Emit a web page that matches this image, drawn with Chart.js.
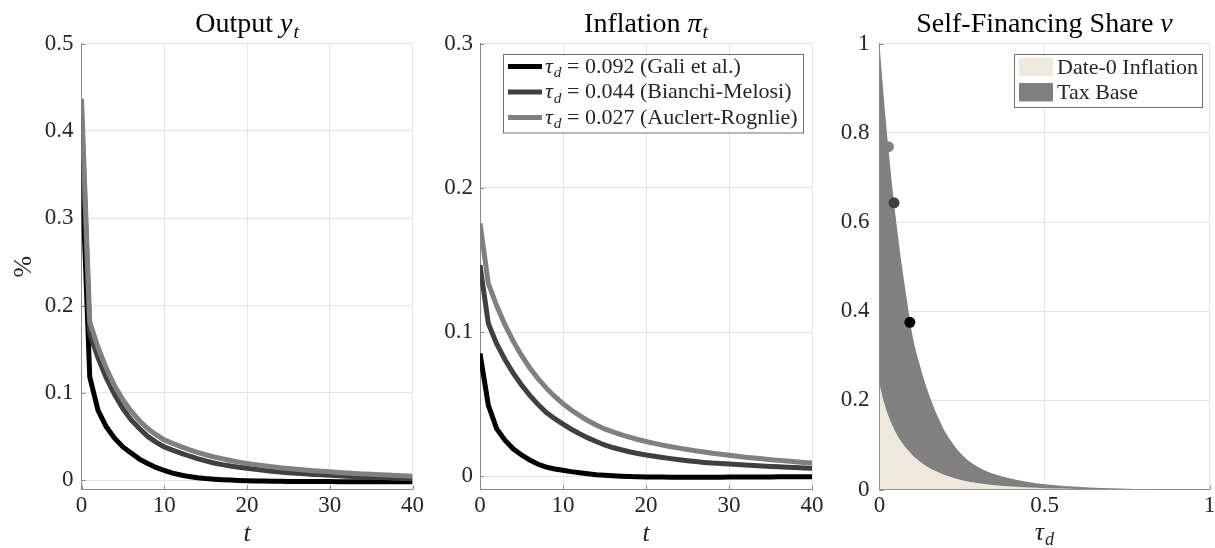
<!DOCTYPE html>
<html>
<head>
<meta charset="utf-8">
<script src="https://cdn.jsdelivr.net/npm/chart.js@4.4.1/dist/chart.umd.min.js"></script>
<style>
html,body{margin:0;padding:0;background:#fff;font-family:'Liberation Serif',serif;}
#wrap{position:relative;width:1215px;height:548px;overflow:hidden;background:#fff;}
canvas{position:absolute;top:0;}
#fontprobe{position:absolute;left:-9999px;top:0;font-family:'Liberation Serif';}
</style>
</head>
<body>
<span id="fontprobe">Output <i>y</i> 0.5</span>
<div id="wrap">
<canvas id="c1" style="left:0px" width="430" height="548"></canvas>
<canvas id="c2" style="left:430px" width="400" height="548"></canvas>
<canvas id="c3" style="left:830px" width="385" height="548"></canvas>
</div>
<script>
// ---------------- DATA ----------------
const periods = [0,1,2,3,4,5,6,7,8,9,10,11,12,13,14,15,16,17,18,19,20,21,22,23,24,25,26,27,28,29,30,31,32,33,34,35,36,37,38,39,40];

// Output y_t (%)
const outputGali = [0.368,0.118,0.080,0.061,0.048,0.038,0.031,0.024,0.019,0.0145,0.011,0.008,0.0058,0.004,0.0027,0.0017,0.001,0.0004,0,-0.0004,-0.0008,-0.001,-0.0012,-0.0013,-0.0014,-0.0015,-0.0016,-0.0016,-0.0017,-0.0017,-0.0017,-0.0018,-0.0018,-0.0018,-0.0018,-0.0018,-0.0019,-0.0019,-0.0019,-0.0019,-0.0019];
const outputBianchiMelosi = [0.42,0.168,0.140,0.117,0.098,0.082,0.069,0.059,0.050,0.0435,0.038,0.0343,0.031,0.0276,0.0246,0.022,0.0196,0.0177,0.0161,0.0147,0.0135,0.0123,0.0112,0.0102,0.0093,0.0085,0.0078,0.0071,0.0065,0.006,0.0055,0.005,0.0045,0.0041,0.0037,0.0033,0.003,0.0026,0.0022,0.0018,0.0015];
const outputAuclertRognlie = [0.437,0.181,0.152,0.128,0.108,0.092,0.079,0.068,0.059,0.052,0.046,0.042,0.0383,0.0349,0.0318,0.029,0.0266,0.0244,0.0224,0.0206,0.019,0.0177,0.0164,0.0153,0.0142,0.0132,0.0123,0.0115,0.0107,0.0101,0.0095,0.0088,0.0082,0.0076,0.0071,0.0066,0.0061,0.0057,0.0053,0.0049,0.0045];

// Inflation pi_t (%)
const inflationGali = [0.0852,0.0494,0.033,0.025,0.019,0.0148,0.0112,0.0083,0.0063,0.005,0.0042,0.0032,0.0024,0.0017,0.0011,0.0007,0.0003,0,-0.0002,-0.0004,-0.0005,-0.0006,-0.0006,-0.0007,-0.0007,-0.0007,-0.0007,-0.0007,-0.0007,-0.0007,-0.0006,-0.0006,-0.0006,-0.0005,-0.0005,-0.0005,-0.0004,-0.0004,-0.0004,-0.0003,-0.0003];
const inflationBianchiMelosi = [0.1465,0.106,0.092,0.081,0.0715,0.0633,0.0561,0.0497,0.0442,0.0399,0.0362,0.0326,0.0295,0.0266,0.0241,0.0217,0.0199,0.0184,0.017,0.0158,0.0147,0.0138,0.013,0.0122,0.0115,0.0108,0.0102,0.0096,0.0091,0.0088,0.0085,0.0081,0.0078,0.0074,0.0071,0.0068,0.0065,0.0062,0.006,0.0057,0.0055];
const inflationAuclertRognlie = [0.1754,0.1338,0.1184,0.1051,0.0937,0.0838,0.0751,0.0676,0.0611,0.0553,0.0503,0.0459,0.042,0.0385,0.0355,0.0328,0.0307,0.0288,0.0271,0.0255,0.0241,0.0228,0.0216,0.0205,0.0195,0.0185,0.0176,0.0168,0.016,0.0152,0.0145,0.0139,0.0132,0.0126,0.0121,0.0115,0.011,0.0105,0.0101,0.0096,0.0092];

// Self-financing share nu over tau_d
const tauGrid = [0,0.01,0.02,0.03,0.04,0.05,0.06,0.07,0.08,0.09,0.10,0.12,0.14,0.16,0.18,0.20,0.25,0.30,0.35,0.40,0.45,0.50,0.55,0.60,0.65,0.70,0.75,0.80,0.85,0.90,0.95,1.0];
const date0Inflation = [0.236,0.205,0.18,0.159,0.142,0.127,0.114,0.103,0.093,0.085,0.077,0.064,0.053,0.045,0.038,0.032,0.021,0.014,0.0095,0.0065,0.0045,0.003,0.002,0.0014,0.001,0.0007,0.0005,0.0003,0.0002,0.0001,0.0001,0];
const taxBaseTotal = [1.0,0.905,0.82,0.742,0.67,0.605,0.545,0.49,0.44,0.39,0.345,0.285,0.235,0.193,0.158,0.128,0.078,0.05,0.034,0.024,0.017,0.012,0.0085,0.006,0.004,0.0027,0.0018,0.0012,0.0008,0.0005,0.0003,0.0002];
const tauCalibrations = [0.092,0.044,0.027];
const nuCalibrations = [0.375,0.643,0.769];

// Labels
const tauLabels = ['0.092','0.044','0.027'];
const sourceLabels = ['(Gali et al.)','(Bianchi-Melosi)','(Auclert-Rognlie)'];
const areaLabels = ['Date-0 Inflation','Tax Base'];
const xTicksPeriods = [0,10,20,30,40];
const xTickLabelsPeriods = ['0','10','20','30','40'];
const yTicksOutput = [0,0.1,0.2,0.3,0.4,0.5];
const yTickLabelsOutput = ['0','0.1','0.2','0.3','0.4','0.5'];
const yTicksInflation = [0,0.1,0.2,0.3];
const yTickLabelsInflation = ['0','0.1','0.2','0.3'];
const xTicksTau = [0,0.5,1];
const xTickLabelsTau = ['0','0.5','1'];
const yTicksNu = [0,0.2,0.4,0.6,0.8,1];
const yTickLabelsNu = ['0','0.2','0.4','0.6','0.8','1'];

// ---------------- STYLE ----------------
const SERIF = "'Liberation Serif', serif";
const seriesColors = ['#000000','#404040','#808080'];
const beige = '#efe9dd';
const taxGray = '#808080';
const gridColor = '#e4e4e4';
const axisColor = '#8a8a8a';
const textColor = '#262626';

function fontStr(size, italic){ return (italic ? 'italic ' : '') + size + 'px ' + SERIF; }
function richWidth(ctx, segs, size){
  let w = 0;
  for (const s of segs){ const sz = s.sub ? size*0.7 : size; ctx.font = fontStr(sz, s.it); w += ctx.measureText(s.t).width + (s.sub ? 1 : 0); }
  return w;
}
function drawRich(ctx, segs, x, y, size, align, color){
  ctx.save();
  ctx.fillStyle = color; ctx.textBaseline = 'alphabetic'; ctx.textAlign = 'left';
  const w = richWidth(ctx, segs, size);
  let cx = align === 'center' ? x - w/2 : (align === 'right' ? x - w : x);
  for (const s of segs){
    const sz = s.sub ? size*0.7 : size;
    ctx.font = fontStr(sz, s.it);
    if (s.sub) cx += 1;
    ctx.fillText(s.t, cx, y + (s.sub ? size*0.2 : 0));
    cx += ctx.measureText(s.t).width;
  }
  ctx.restore();
}

const panelTitles = [
  [{t:'Output '},{t:'y',it:true},{t:'t',it:true,sub:true}],
  [{t:'Inflation '},{t:'\u03C0',it:true},{t:'t',it:true,sub:true}],
  [{t:'Self-Financing Share '},{t:'\u03BD',it:true}]
];
const tauAxisTitle = [{t:'\u03C4',it:true},{t:'d',it:true,sub:true}];

const decorPlugin = {
  id: 'decor',
  beforeDatasetsDraw(chart){
    const {ctx, chartArea:a, scales:{x, y}} = chart;
    ctx.save();
    ctx.strokeStyle = axisColor; ctx.lineWidth = 1;
    ctx.beginPath();
    x.ticks.forEach(t => { const p = Math.round(x.getPixelForValue(t.value)) + 0.5; ctx.moveTo(p, a.bottom); ctx.lineTo(p, a.bottom - 4); });
    y.ticks.forEach(t => { const p = Math.round(y.getPixelForValue(t.value)) + 0.5; ctx.moveTo(a.left, p); ctx.lineTo(a.left + 4, p); });
    ctx.stroke();
    ctx.restore();
  },
  afterDraw(chart){
    const {ctx, chartArea:a} = chart;
    const o = chart.options.plugins.decor;
    drawRich(ctx, panelTitles[o.panel], (a.left + a.right)/2, 32, 28, 'center', '#000');
    if (o.panel === 1){
      const L = a.left + 23, T = a.top + 10, W = 300, H = 78.5;
      ctx.save();
      ctx.fillStyle = '#fff'; ctx.fillRect(L, T, W, H);
      ctx.strokeStyle = '#707070'; ctx.lineWidth = 1; ctx.strokeRect(Math.round(L)+0.5, Math.round(T)+0.5, W, H);
      for (let i = 0; i < 3; i++){
        const cy = T + 12.7 + i*25.5;
        ctx.strokeStyle = seriesColors[i]; ctx.lineWidth = 5; ctx.lineCap = 'butt';
        ctx.beginPath(); ctx.moveTo(L + 5, cy); ctx.lineTo(L + 39, cy); ctx.stroke();
        drawRich(ctx, [{t:'\u03C4',it:true},{t:'d',it:true,sub:true},{t:' = ' + tauLabels[i] + ' ' + sourceLabels[i]}], L + 42, cy + 6.5, 22, 'left', textColor);
      }
      ctx.restore();
    }
    if (o.panel === 2){
      const L = a.left + 134.5, T = a.top + 10, W = 188, H = 53;
      ctx.save();
      ctx.fillStyle = '#fff'; ctx.fillRect(L, T, W, H);
      ctx.strokeStyle = '#707070'; ctx.lineWidth = 1; ctx.strokeRect(Math.round(L)+0.5, Math.round(T)+0.5, W, H);
      const fills = [beige, taxGray];
      for (let i = 0; i < 2; i++){
        const cy = T + 13.3 + i*25.2;
        ctx.fillStyle = fills[i];
        ctx.fillRect(L + 5, cy - 9.25, 34, 18.5);
        drawRich(ctx, [{t: areaLabels[i]}], L + 43, cy + 6.5, 22, 'left', textColor);
      }
      ctx.restore();
      drawRich(ctx, tauAxisTitle, (a.left + a.right)/2, 540, 26, 'center', textColor);
    }
  }
};

function makeChart(id, panel, datasets, xCfg, yCfg, yWidth, rightPad, yTitle){
  const tickFont = {family: SERIF, size: 23};
  const x = {
    type: 'linear', min: xCfg.min, max: xCfg.max,
    afterBuildTicks: s => { s.ticks = xCfg.ticks.map(v => ({value: v})); },
    afterFit: s => { s.height = 58.5; s.paddingLeft = 0; s.paddingRight = 0; },
    ticks: { font: tickFont, color: textColor, padding: 3, maxRotation: 0, autoSkip: false, callback: (v, i) => xCfg.labels[i] },
    grid: { color: gridColor, lineWidth: 1, drawTicks: false },
    border: { display: true, color: axisColor, width: 1 },
    title: xCfg.title ? { display: true, text: xCfg.title, color: textColor, font: {family: SERIF, size: 26, style: 'italic', lineHeight: 1}, padding: {top: 0, bottom: 1} } : { display: false }
  };
  const y = {
    type: 'linear', min: yCfg.min, max: yCfg.max,
    afterBuildTicks: s => { s.ticks = yCfg.ticks.map(v => ({value: v})); },
    afterFit: s => { s.width = yWidth; s.paddingTop = 0; s.paddingBottom = 0; },
    ticks: { font: tickFont, color: textColor, padding: yCfg.pad, autoSkip: false, callback: (v, i) => yCfg.labels[i] },
    grid: { color: gridColor, lineWidth: 1, drawTicks: false },
    border: { display: true, color: axisColor, width: 1 },
    title: yTitle ? { display: true, text: yTitle, color: textColor, font: {family: SERIF, size: 26, lineHeight: 1}, padding: {top: 11, bottom: 0} } : { display: false }
  };
  return new Chart(document.getElementById(id), {
    type: 'line',
    data: { datasets },
    options: {
      responsive: false, maintainAspectRatio: false, animation: false,
      layout: { padding: { top: 43.7, right: rightPad, bottom: 0, left: 0 } },
      scales: { x, y },
      plugins: { legend: { display: false }, tooltip: { enabled: false }, title: { display: false }, decor: { panel } },
      elements: { point: { radius: 0 }, line: { tension: 0 } }
    },
    plugins: [decorPlugin]
  });
}

function lineSet(xs, ys, color, order){
  return { data: xs.map((t, i) => ({x: t, y: ys[i]})), borderColor: color, backgroundColor: color, borderWidth: 5, pointRadius: 0, fill: false, order };
}

Chart.defaults.font.family = SERIF;

const charts = [];
charts.push(makeChart('c1', 0, [
  lineSet(periods, outputGali, seriesColors[0], 3),
  lineSet(periods, outputBianchiMelosi, seriesColors[1], 2),
  lineSet(periods, outputAuclertRognlie, seriesColors[2], 1)
], {min: 0, max: 40, ticks: xTicksPeriods, labels: xTickLabelsPeriods, title: 't'},
   {min: -0.0108, max: 0.5, ticks: yTicksOutput, labels: yTickLabelsOutput, pad: 8}, 81.5, 17.5, '%'));

charts.push(makeChart('c2', 1, [
  lineSet(periods, inflationGali, seriesColors[0], 3),
  lineSet(periods, inflationBianchiMelosi, seriesColors[1], 2),
  lineSet(periods, inflationAuclertRognlie, seriesColors[2], 1)
], {min: 0, max: 40, ticks: xTicksPeriods, labels: xTickLabelsPeriods, title: 't'},
   {min: -0.0092, max: 0.3, ticks: yTicksInflation, labels: yTickLabelsInflation, pad: 7}, 50, 18, null));

charts.push(makeChart('c3', 2, [
  { data: tauGrid.map((t, i) => ({x: t, y: date0Inflation[i]})), borderWidth: 0, borderColor: beige, backgroundColor: beige, fill: 'origin', pointRadius: 0, order: 3, cubicInterpolationMode: 'monotone' },
  { data: tauGrid.map((t, i) => ({x: t, y: taxBaseTotal[i]})), borderWidth: 0, borderColor: taxGray, backgroundColor: taxGray, fill: '-1', pointRadius: 0, order: 2, cubicInterpolationMode: 'monotone' },
  { data: tauCalibrations.map((t, i) => ({x: t, y: nuCalibrations[i]})), showLine: false, pointRadius: 5.5, pointHoverRadius: 5.5, pointBorderWidth: 0,
    pointBackgroundColor: seriesColors, pointBorderColor: seriesColors, order: 1 }
], {min: 0, max: 1, ticks: xTicksTau, labels: xTickLabelsTau, title: null},
   {min: 0, max: 1, ticks: yTicksNu, labels: yTickLabelsNu, pad: 10}, 49.5, 3.5, null));

if (document.fonts && document.fonts.ready) {
  document.fonts.ready.then(() => charts.forEach(c => c.update('none')));
}
</script>
</body>
</html>
